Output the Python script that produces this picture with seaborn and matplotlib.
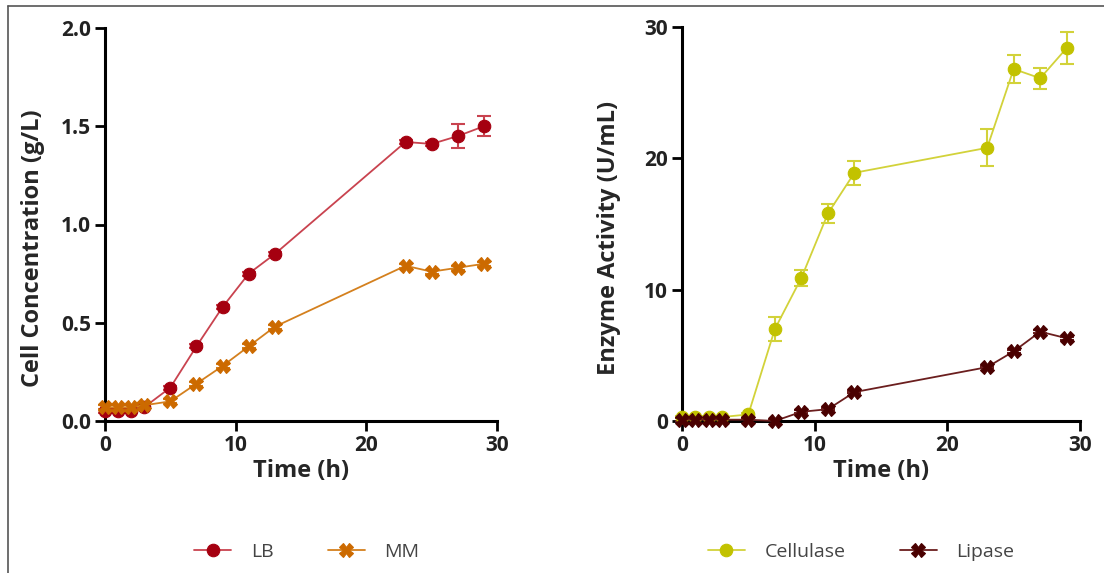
import numpy as np
import pandas as pd
import matplotlib
matplotlib.use("Agg")
import matplotlib.pyplot as plt
from matplotlib.lines import Line2D
import seaborn as sns

# sampling times (h)
time_h = [0, 1, 2, 3, 5, 7, 9, 11, 13, 23, 25, 27, 29]

# cell concentration (g/L)
lb_conc = [0.05, 0.05, 0.05, 0.07, 0.17, 0.38, 0.58, 0.75, 0.85, 1.42, 1.41, 1.45, 1.50]
lb_err = [0.01, 0.01, 0.01, 0.01, 0.01, 0.01, 0.01, 0.01, 0.01, 0.01, 0.01, 0.06, 0.05]
mm_conc = [0.07, 0.07, 0.07, 0.08, 0.10, 0.19, 0.28, 0.38, 0.48, 0.79, 0.76, 0.78, 0.80]
mm_err = [0.01, 0.01, 0.01, 0.01, 0.01, 0.01, 0.01, 0.01, 0.01, 0.01, 0.01, 0.01, 0.01]

# enzyme activity (U/mL)
cellulase = [0.3, 0.3, 0.3, 0.3, 0.5, 7.0, 10.9, 15.8, 18.9, 20.8, 26.8, 26.1, 28.4]
cellulase_err = [0.1, 0.1, 0.1, 0.1, 0.1, 0.9, 0.6, 0.7, 0.9, 1.4, 1.1, 0.8, 1.2]
lipase = [0.1, 0.1, 0.1, 0.1, 0.1, 0.0, 0.7, 0.9, 2.2, 4.1, 5.3, 6.8, 6.3]
lipase_err = [0.1, 0.1, 0.1, 0.1, 0.1, 0.1, 0.1, 0.1, 0.1, 0.1, 0.1, 0.1, 0.1]

sns.set_style("ticks")
plt.rcParams['font.family'] = ['Open Sans', 'DejaVu Sans']

fig = plt.figure(figsize=(11.04, 5.73), dpi=100)
ax1 = fig.add_axes([105 / 1104, 1 - 421 / 573, 392 / 1104, 393 / 573])
ax2 = fig.add_axes([682 / 1104, 1 - 421 / 573, 398 / 1104, 394 / 573])


def draw_series(ax, y, err, label, line_c, mark_c, marker, ms):
    df = pd.DataFrame({"time": time_h, "value": y})
    sns.lineplot(data=df, x="time", y="value", ax=ax, color=line_c, lw=1.3,
                 marker=marker, markersize=ms, markerfacecolor=mark_c,
                 markeredgecolor=mark_c, markeredgewidth=0.8,
                 label=label, clip_on=False, zorder=3)
    ax.errorbar(time_h, y, yerr=err, fmt="none", ecolor=line_c, elinewidth=1.5,
                capsize=5, capthick=1.5, clip_on=False, zorder=2)


draw_series(ax1, lb_conc, lb_err, "LB", "#c9434f", "#a50010", "o", 9)
draw_series(ax1, mm_conc, mm_err, "MM", "#d4801e", "#cc6a00", "X", 10)
draw_series(ax2, cellulase, cellulase_err, "Cellulase", "#d2d23a", "#c2c200", "o", 9)
draw_series(ax2, lipase, lipase_err, "Lipase", "#6b1e1e", "#4a0000", "X", 10)

for ax, ylim, yticks, fmt, ylabel, leg_x, lab_xy in [
    (ax1, (0, 2.0), [0, 0.5, 1.0, 1.5, 2.0], "{:.1f}", "Cell Concentration (g/L)", 0.278, (-0.153, 0.44)),
    (ax2, (0, 30), [0, 10, 20, 30], "{:.0f}", "Enzyme Activity (U/mL)", 0.78, (-0.153, 0.465)),
]:
    ax.set_xlim(0, 30)
    ax.set_ylim(*ylim)
    ax.set_xticks([0, 10, 20, 30])
    ax.set_yticks(yticks)
    ax.set_yticklabels([fmt.format(t) for t in yticks])
    ax.set_xlabel("Time (h)", fontsize=17, fontweight="bold", labelpad=2)
    ax.set_ylabel(ylabel, fontsize=17, fontweight="bold")
    ax.yaxis.set_label_coords(*lab_xy)
    sns.despine(ax=ax)
    for s in ["left", "bottom"]:
        ax.spines[s].set_linewidth(2.2)
        ax.spines[s].set_color("black")
    ax.tick_params(axis="both", length=7, width=2, labelsize=15, pad=3, colors="black")
    for lab in ax.get_xticklabels() + ax.get_yticklabels():
        lab.set_fontweight("bold")
        lab.set_color("#222222")
    handles, labels = ax.get_legend_handles_labels()
    ax.get_legend().remove()
    leg = fig.legend(handles, labels, loc="center", bbox_to_anchor=(leg_x, 0.037),
                     ncol=2, frameon=False, fontsize=14, handlelength=1.9,
                     columnspacing=2.8, handletextpad=1.0)
    for t in leg.get_texts():
        t.set_color("#444444")

# thin frame along the top and left of the figure
fig.add_artist(Line2D([8 / 1104, 1], [1 - 6 / 573, 1 - 6 / 573], color="#555555", lw=1.2))
fig.add_artist(Line2D([8 / 1104, 8 / 1104], [0, 1 - 6 / 573], color="#555555", lw=1.2))

fig.savefig("out.png", dpi=100)
